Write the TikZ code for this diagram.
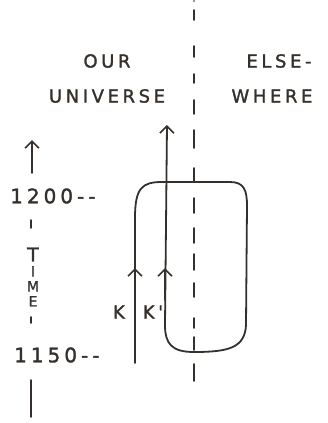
\documentclass[tikz,border=0pt]{standalone}
\usepackage{fontspec}
\newfontfamily\hand[LetterSpace=20,FakeBold=1.5]{DejaVu Sans}
\usetikzlibrary{arrows.meta}

\definecolor{ink}{HTML}{35302B}
\def\LineX{194}

\tikzset{
  wline/.style={line width=1.8pt, line cap=round, line join=round},
  tip/.style={-{Straight Barb[length=7pt,width=14pt,line width=1.6pt]}},
  lbl/.style={font=\hand\fontsize{18}{18}\selectfont, inner sep=0pt, text=ink},
  num/.style={font=\hand\fontsize{20}{20}\selectfont, inner sep=0pt, text=ink, anchor=west},
}

\begin{document}
\begin{tikzpicture}[x=1pt,y=-1pt,color=ink]
  \useasboundingbox (0,0) rectangle (328,423);

  % --- Textos ---
  \node[lbl] (our) at (107,61) {OUR};
  \node[lbl] (universe) at (107,96) {UNIVERSE};
  \node[lbl] (else) at (279,61) {ELSE-};
  \node[lbl] (where) at (272,96) {WHERE};
  \node[num] (t1200) at (10,196) {1200-{}-};
  \node[num] (t1150) at (14,355) {1150-{}-};
  \node[font=\hand\fontsize{14}{15}\selectfont, align=center, inner sep=0pt] (time) at (33,277) {{\fontsize{19}{19}\selectfont T}\\I\\M\\E};
  \node[lbl] (k) at (119,312) {K};
  \node[lbl] (kp) at (153,312) {K'};

  % --- Eje del tiempo ---
  \coordinate (tBot) at (32,173);
  \coordinate (tTop) at (32,140);
  \draw[wline,tip] (tBot) -- (tTop);
  \foreach \ya/\yb in {220/228, 317/323, 380/417}{
    \draw[wline] (31,\ya) -- (31,\yb);
  }

  % --- Linea divisoria ---
  \foreach \ya/\yb in {%
    10/20, 46/57, 74/83, 100/114,
    130/148, 168/182, 198/213, 228/243,
    254/270, 283/297, 318/328, 337/350, 364/381,
  }{
    \draw[wline] (\LineX,\ya) -- (\LineX,\yb);
  }

  % --- Bucle K -> K' ---
  \coordinate (kStart) at (135,363);
  \coordinate (kMid) at (135,300);
  \coordinate (kTip) at (135,268);
  \coordinate (kpMid) at (165,300);
  \coordinate (kpTip) at (165,268);
  \coordinate (kpEnd) at (167,125);
  \draw[wline,tip] (kStart) -- (135,218)
    .. controls (135,188) and (142,182) .. (162,182)
    -- (230,182)
    .. controls (244,182) and (247,190) .. (247,206)
    -- (246,325)
    .. controls (245,348) and (228,352) .. (194,352)
    .. controls (172,352) and (165,344) .. (165,325)
    -- (kpEnd);
  \draw[wline,tip] (kMid) -- (kTip);
  \draw[wline,tip] (kpMid) -- (kpTip);
\end{tikzpicture}
\end{document}
